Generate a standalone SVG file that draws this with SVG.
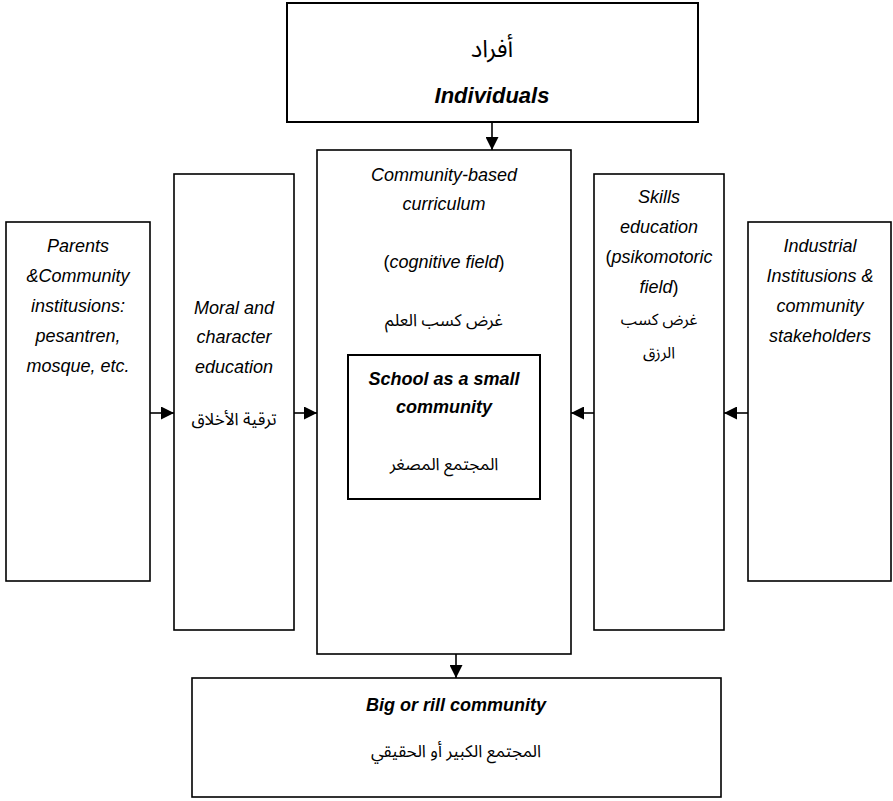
<svg xmlns="http://www.w3.org/2000/svg" width="893" height="801" viewBox="0 0 893 801">
<defs>
<style>
.box{fill:#fff;stroke:#000;stroke-width:1.6}
.thick{stroke-width:2}
.it{font-family:"Liberation Sans",Arial,sans-serif;font-style:italic;font-size:18px;fill:#000;text-anchor:middle}
.bi{font-family:"Liberation Sans",Arial,sans-serif;font-style:italic;font-weight:bold;font-size:18px;fill:#000;text-anchor:middle}
.rg{font-style:normal}
.ar{font-family:"Noto Sans Arabic","DejaVu Sans","Liberation Sans",sans-serif;font-size:17px;fill:#000;text-anchor:middle}
.conn{stroke:#000;stroke-width:1.6;fill:none}
</style>
<marker id="ah" viewBox="0 0 10 10" refX="10" refY="5" markerWidth="13" markerHeight="13" markerUnits="userSpaceOnUse" orient="auto">
<path d="M0,0 L10,5 L0,10 Z" fill="#000"/>
</marker>
</defs>

<g id="individuals">
<rect class="box thick" x="287" y="3" width="411" height="119"/>
<text class="ar" x="492" y="57" style="font-size:24px">أفراد</text>
<text class="bi" x="492" y="103" style="font-size:22px">Individuals</text>
</g>

<g id="parents">
<rect class="box" x="6" y="222" width="144" height="359"/>
<text class="it" x="78" y="252">Parents</text>
<text class="it" x="78" y="282">&amp;Community</text>
<text class="it" x="78" y="312">institusions:</text>
<text class="it" x="78" y="342">pesantren,</text>
<text class="it" x="78" y="372">mosque, etc.</text>
</g>

<g id="moral">
<rect class="box" x="174" y="174" width="120" height="456"/>
<text class="it" x="234" y="314">Moral and</text>
<text class="it" x="234" y="343">character</text>
<text class="it" x="234" y="373">education</text>
<text class="ar" x="234" y="425">ترقية الأخلاق</text>
</g>

<g id="curriculum">
<rect class="box" x="317" y="150" width="254" height="504"/>
<text class="it" x="444" y="181">Community-based</text>
<text class="it" x="444" y="210">curriculum</text>
<text class="it" x="444" y="268"><tspan class="rg">(</tspan>cognitive field<tspan class="rg">)</tspan></text>
<text class="ar" x="444" y="326">غرض كسب العلم</text>
</g>

<g id="school">
<rect class="box thick" x="348" y="355" width="192" height="144"/>
<text class="bi" x="444" y="385">School as a small</text>
<text class="bi" x="444" y="413">community</text>
<text class="ar" x="444" y="470">المجتمع المصغر</text>
</g>

<g id="skills">
<rect class="box" x="594" y="174" width="130" height="456"/>
<text class="it" x="659" y="203">Skills</text>
<text class="it" x="659" y="233">education</text>
<text class="it" x="659" y="263"><tspan class="rg">(</tspan>psikomotoric</text>
<text class="it" x="659" y="293">field<tspan class="rg">)</tspan></text>
<text class="ar" x="659" y="325" style="font-size:16px">غرض كسب</text>
<text class="ar" x="659" y="358" style="font-size:16px">الرزق</text>
</g>

<g id="industrial">
<rect class="box" x="748" y="222" width="143" height="359"/>
<text class="it" x="820" y="252">Industrial</text>
<text class="it" x="820" y="282">Institusions &amp;</text>
<text class="it" x="820" y="312">community</text>
<text class="it" x="820" y="342">stakeholders</text>
</g>

<g id="big">
<rect class="box" x="192" y="678" width="529" height="119"/>
<text class="bi" x="456" y="711">Big or rill community</text>
<text class="ar" x="456" y="757">المجتمع الكبير أو الحقيقي</text>
</g>

<g id="connectors">
<line class="conn" x1="492" y1="122" x2="492" y2="150" marker-end="url(#ah)"/>
<line class="conn" x1="150" y1="413" x2="174" y2="413" marker-end="url(#ah)"/>
<line class="conn" x1="294" y1="413" x2="317" y2="413" marker-end="url(#ah)"/>
<line class="conn" x1="748" y1="413" x2="724" y2="413" marker-end="url(#ah)"/>
<line class="conn" x1="594" y1="413" x2="571" y2="413" marker-end="url(#ah)"/>
<line class="conn" x1="456" y1="654" x2="456" y2="678" marker-end="url(#ah)"/>
</g>
</svg>
